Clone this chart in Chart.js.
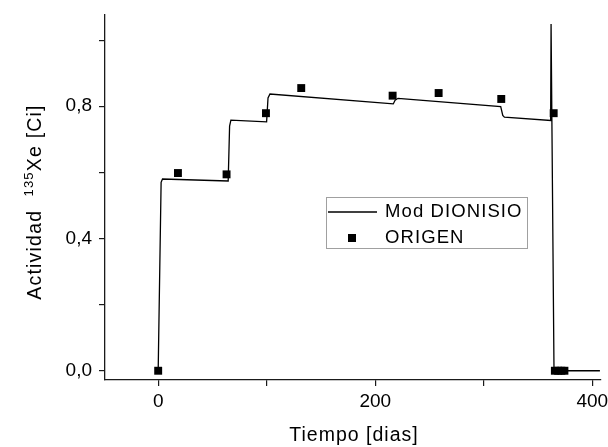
<!DOCTYPE html>
<html>
<head>
<meta charset="utf-8">
<script src="https://cdn.jsdelivr.net/npm/chart.js@4.4.1/dist/chart.umd.min.js"></script>
<style>
  body { margin: 0; background: #fff; }
  #wrap { width: 608px; height: 447px; }
</style>
</head>
<body>
<div id="wrap"><canvas id="xeChart" width="608" height="447"></canvas></div>
<script>
// --- Data ---
const dionisioDias = [0, 2.7, 4, 64.5, 65.8, 67, 99.9, 101.2, 103, 216.6, 218.3, 221, 315.6, 317.5, 319, 361.6, 362, 364.7, 407];
const dionisioAct  = [0, 0.57, 0.580, 0.574, 0.74, 0.758, 0.753, 0.825, 0.837, 0.807, 0.818, 0.824, 0.799, 0.772, 0.767, 0.757, 1.049, 0, 0];

const origenDias = [0, 18.2, 63, 99.3, 131.8, 216, 258.4, 316.1, 364.4, 365.5, 368.5, 371.5, 374.3];
const origenAct  = [0, 0.598, 0.594, 0.779, 0.855, 0.832, 0.840, 0.822, 0.779, 0, 0, 0, 0];

const xTicks = [0, 100, 200, 300, 400];
const xTickLabels = ["0", "", "200", "", "400"];
const yTicks = [0, 0.2, 0.4, 0.6, 0.8, 1.0];
const yTickLabels = ["0,0", "", "0,4", "", "0,8", ""];

const FONT = "'Liberation Sans', Arial, sans-serif";
Chart.defaults.font.family = FONT;
Chart.defaults.color = "#000";

// --- Axis titles and legend box ---
const extras = {
  id: "extras",
  afterDraw(chart) {
    const ctx = chart.ctx;
    const area = chart.chartArea;
    ctx.save();
    ctx.fillStyle = "#000";
    ctx.textBaseline = "alphabetic";
    ctx.letterSpacing = "1px";

    // x title
    ctx.font = "19.5px " + FONT;
    ctx.textAlign = "center";
    ctx.fillText("Tiempo [dias]", (area.left + area.right) / 2 + 1, 441);

    // y title with superscript
    ctx.save();
    ctx.translate(40.5, 202);
    ctx.rotate(-Math.PI / 2);
    ctx.textAlign = "left";
    ctx.letterSpacing = "1.2px";
    const big = "19.5px " + FONT, small = "13px " + FONT;
    const parts = [["Actividad  ", big, 0], ["135", small, -8], ["Xe [Ci]", big, 0]];
    let w = 0;
    parts.forEach(p => { ctx.font = p[1]; w += ctx.measureText(p[0]).width; });
    let x = -w / 2;
    parts.forEach(p => {
      ctx.font = p[1];
      ctx.fillText(p[0], x, p[2]);
      x += ctx.measureText(p[0]).width;
    });
    ctx.restore();

    // legend
    const ds = chart.data.datasets;
    ctx.letterSpacing = "1.1px";
    ctx.strokeStyle = "#a0a0a0";
    ctx.lineWidth = 1;
    ctx.strokeRect(326.5, 197.5, 201, 51);
    ctx.strokeStyle = ds[0].borderColor;
    ctx.lineWidth = ds[0].borderWidth;
    ctx.beginPath();
    ctx.moveTo(328, 212);
    ctx.lineTo(377, 212);
    ctx.stroke();
    ctx.fillStyle = ds[1].backgroundColor;
    ctx.fillRect(348, 234, 8, 8);
    ctx.fillStyle = "#000";
    ctx.font = "18.5px " + FONT;
    ctx.textAlign = "left";
    ctx.textBaseline = "middle";
    ctx.fillText(ds[0].label, 385, 212);
    ctx.fillText(ds[1].label, 385, 238);
    ctx.restore();
  }
};

const axisColor = "#1a1a1a";

new Chart(document.getElementById("xeChart"), {
  type: "scatter",
  data: {
    datasets: [
      {
        label: "Mod DIONISIO",
        data: dionisioDias.map((d, i) => ({ x: d, y: dionisioAct[i] })),
        showLine: true,
        borderColor: "#000",
        borderWidth: 1.3,
        pointRadius: 0,
        tension: 0
      },
      {
        label: "ORIGEN",
        data: origenDias.map((d, i) => ({ x: d, y: origenAct[i] })),
        pointStyle: "rect",
        pointRadius: 5.6,
        backgroundColor: "#000",
        borderColor: "#000",
        borderWidth: 0
      }
    ]
  },
  options: {
    responsive: false,
    animation: false,
    layout: { padding: { top: 15, right: 7, left: 0, bottom: 0 } },
    plugins: { legend: { display: false }, tooltip: { enabled: false } },
    scales: {
      x: {
        type: "linear",
        min: -49,
        max: 408,
        afterBuildTicks: s => { s.ticks = xTicks.map(v => ({ value: v })); },
        afterFit: s => { s.height = 67; s.paddingLeft = 0; s.paddingRight = 0; },
        ticks: {
          autoSkip: false,
          maxRotation: 0,
          padding: 4,
          font: { size: 19 },
          color: "#000",
          callback: (v, i) => xTickLabels[i]
        },
        grid: { drawOnChartArea: false, drawTicks: true, tickLength: 6, color: axisColor, lineWidth: 1.2 },
        border: { display: true, color: axisColor, width: 1.3 }
      },
      y: {
        type: "linear",
        min: -0.028,
        max: 1.076,
        afterBuildTicks: s => { s.ticks = yTicks.map(v => ({ value: v })); },
        afterFit: s => { s.width = 105; s.paddingTop = 0; s.paddingBottom = 0; },
        ticks: {
          autoSkip: false,
          padding: 7,
          font: { size: 19 },
          color: "#000",
          callback: (v, i) => yTickLabels[i]
        },
        grid: { drawOnChartArea: false, drawTicks: true, tickLength: 6, color: axisColor, lineWidth: 1.2 },
        border: { display: true, color: axisColor, width: 1.3 }
      }
    }
  },
  plugins: [extras]
});
</script>
</body>
</html>
